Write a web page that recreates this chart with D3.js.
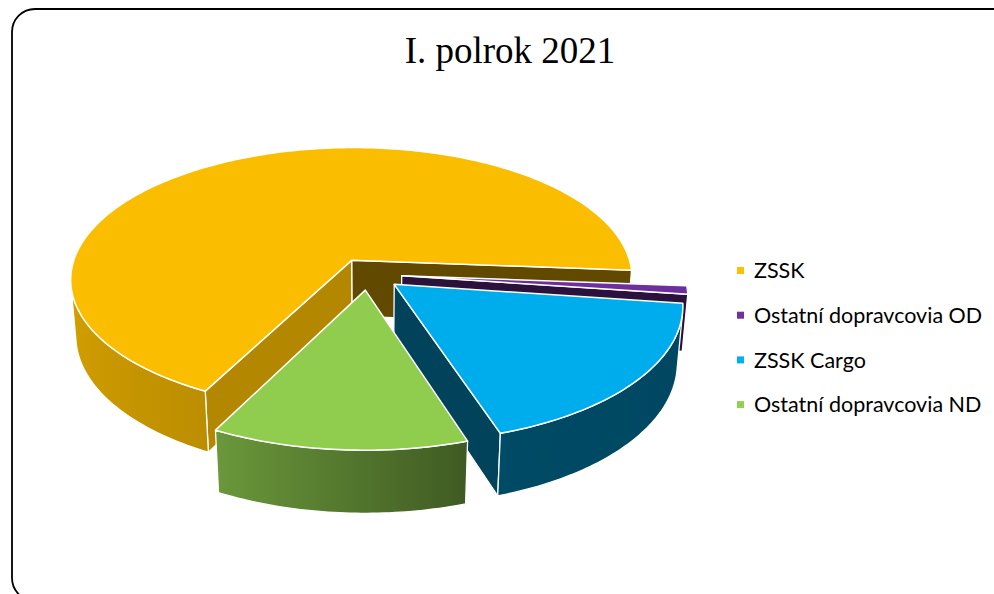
<!DOCTYPE html>
<html>
<head>
<meta charset="utf-8">
<script src="https://cdn.jsdelivr.net/npm/d3@7"></script>
<style>
body { margin: 0; background: #fff; }
svg { display: block; }
</style>
</head>
<body>
<div id="chart"></div>
<script>
// data
var title = "I. polrok 2021";
var categories = ["ZSSK", "Ostatní dopravcovia OD", "ZSSK Cargo", "Ostatní dopravcovia ND"];
var values = [68.7, 1.0, 17.8, 12.5];
var colors = ["#FFC000", "#7030A0", "#00B0F0", "#92D050"];

var width = 994, height = 594;
var svg = d3.select("#chart").append("svg")
    .attr("width", width)
    .attr("height", height);
var defs = svg.append("defs");

// chart frame (runs off the right and bottom edge)
svg.append("rect")
    .attr("x", 12).attr("y", 9)
    .attr("width", 1010).attr("height", 592)
    .attr("rx", 23)
    .attr("fill", "none")
    .attr("stroke", "#000")
    .attr("stroke-width", 1.8);

svg.append("text")
    .attr("x", 510).attr("y", 63)
    .attr("text-anchor", "middle")
    .style("font-family", "'Liberation Serif', 'Times New Roman', serif")
    .style("font-size", "37px")
    .text(title);

// 3d pie settings
var cx = 368, cy = 274, scale = 282;
var tilt = 28 * Math.PI / 180, dist = 6.23, depth = 0.23, explode = 0.12;
var firstAngle = 207 * Math.PI / 180;
var ce = Math.cos(tilt), se = Math.sin(tilt);
var cam = [0, dist * se, -dist * ce];

function proj(X, Y, Z) {
    var v = Y * ce + Z * se;
    var w = (dist + Z * ce - Y * se) / dist;
    return [cx + scale * X / w, cy - scale * v / w];
}
function wdepth(X, Y, Z) { return dist + Z * ce - Y * se; }

function shade(c, f) {
    var r = d3.rgb(c);
    return d3.rgb(r.r * f, r.g * f, r.b * f).formatHex();
}
// side shading by direction the surface faces (degrees, clockwise from back)
var sideShade = d3.scaleLinear()
    .domain([0, 90, 160, 208, 270, 360])
    .range([0.40, 0.40, 0.42, 0.74, 0.86, 0.60]);
function deg(a) { var d = a * 180 / Math.PI % 360; return d < 0 ? d + 360 : d; }
function wallShade(n) { return 0.38 + 0.36 * Math.max(0, Math.sin(n)); }

function facing(n, p) {
    return n[0] * (cam[0] - p[0]) + n[1] * (cam[1] - p[1]) + n[2] * (cam[2] - p[2]) > 0;
}
function pathOf(pts) { return "M" + pts.map(function(p) { return p[0].toFixed(2) + "," + p[1].toFixed(2); }).join("L") + "Z"; }

var pie = d3.pie().sort(null).value(function(d) { return d; })
    .startAngle(firstAngle).endAngle(firstAngle + 2 * Math.PI);
var arcs = pie(values);

var slices = arcs.map(function(a, i) {
    var mid = (a.startAngle + a.endAngle) / 2;
    return {i: i, a0: a.startAngle, a1: a.endAngle,
        ox: explode * Math.sin(mid), oz: explode * Math.cos(mid)};
});
// back to front
slices.sort(function(a, b) { return b.oz - a.oz; });

var gid = 0;
slices.forEach(function(s) {
    var col = colors[s.i];
    var g = svg.append("g");
    var faces = [];
    function rim(a, Y) { return [s.ox + Math.sin(a), Y, s.oz + Math.cos(a)]; }
    var c0 = [s.ox, 0, s.oz], c1 = [s.ox, -depth, s.oz];

    // radial walls
    [[s.a0, s.a0 - Math.PI / 2], [s.a1, s.a1 + Math.PI / 2]].forEach(function(w) {
        var n = [Math.sin(w[1]), 0, Math.cos(w[1])];
        var pts3 = [c0, rim(w[0], 0), rim(w[0], -depth), c1];
        var mp = [(c0[0] + pts3[1][0]) / 2, -depth / 2, (c0[2] + pts3[1][2]) / 2];
        if (!facing(n, mp)) return;
        faces.push({
            d: pathOf(pts3.map(function(p) { return proj(p[0], p[1], p[2]); })),
            fill: shade(col, wallShade(w[1])),
            z: d3.mean(pts3, function(p) { return wdepth(p[0], p[1], p[2]); })
        });
    });

    // outer side, split into visible runs
    var n = Math.max(2, Math.ceil((s.a1 - s.a0) / (Math.PI / 180)));
    var step = (s.a1 - s.a0) / n;
    var runs = [], cur = null;
    for (var k = 0; k < n; k++) {
        var m = s.a0 + (k + 0.5) * step;
        var vis = facing([Math.sin(m), 0, Math.cos(m)], rim(m, -depth / 2));
        if (vis) {
            if (!cur) { cur = [s.a0 + k * step]; runs.push(cur); }
            cur.push(s.a0 + (k + 1) * step);
        } else cur = null;
    }
    runs.forEach(function(run) {
        var top = run.map(function(a) { var p = rim(a, 0); return proj(p[0], p[1], p[2]); });
        var bot = run.map(function(a) { var p = rim(a, -depth); return proj(p[0], p[1], p[2]); });
        var xs = top.map(function(p) { return p[0]; });
        var x0 = d3.min(xs), x1 = d3.max(xs);
        var id = "side" + (gid++);
        var grad = defs.append("linearGradient").attr("id", id)
            .attr("gradientUnits", "userSpaceOnUse")
            .attr("x1", x0).attr("x2", x1).attr("y1", 0).attr("y2", 0);
        var stops = run.map(function(a, j) {
            return {o: x1 > x0 ? (xs[j] - x0) / (x1 - x0) : 0, c: shade(col, sideShade(deg(a)))};
        }).sort(function(p, q) { return p.o - q.o; });
        grad.selectAll("stop").data(stops).enter().append("stop")
            .attr("offset", function(d) { return d.o; })
            .attr("stop-color", function(d) { return d.c; });
        faces.push({
            d: pathOf(top.concat(bot.reverse())),
            fill: "url(#" + id + ")",
            z: d3.mean(run, function(a) { var p = rim(a, -depth / 2); return wdepth(p[0], p[1], p[2]); })
        });
    });

    faces.sort(function(a, b) { return b.z - a.z; });
    faces.forEach(function(f) {
        g.append("path").attr("d", f.d).attr("fill", f.fill)
            .attr("stroke", "#fff").attr("stroke-width", 1.3).attr("stroke-linejoin", "round");
    });

    // top face
    var topPts = [proj(c0[0], 0, c0[2])];
    for (var k2 = 0; k2 <= n; k2++) {
        var p = rim(s.a0 + k2 * step, 0);
        topPts.push(proj(p[0], p[1], p[2]));
    }
    g.append("path").attr("d", pathOf(topPts)).attr("fill", shade(col, 0.985))
        .attr("stroke", "#fff").attr("stroke-width", 1.5).attr("stroke-linejoin", "round");
});

// legend
var legend = svg.append("g").selectAll("g")
    .data(categories).enter().append("g")
    .attr("transform", function(d, i) { return "translate(737," + (270.5 + i * 44.7) + ")"; });
legend.append("rect")
    .attr("x", 0).attr("y", -3.5)
    .attr("width", 7).attr("height", 7)
    .attr("fill", function(d, i) { return colors[i]; });
legend.append("text")
    .attr("x", 17).attr("y", 0)
    .attr("dy", "0.36em")
    .style("font-family", "Lato, 'Open Sans', sans-serif")
    .style("font-size", "21.5px")
    .attr("fill", "#000")
    .text(function(d) { return d; });
</script>
</body>
</html>
